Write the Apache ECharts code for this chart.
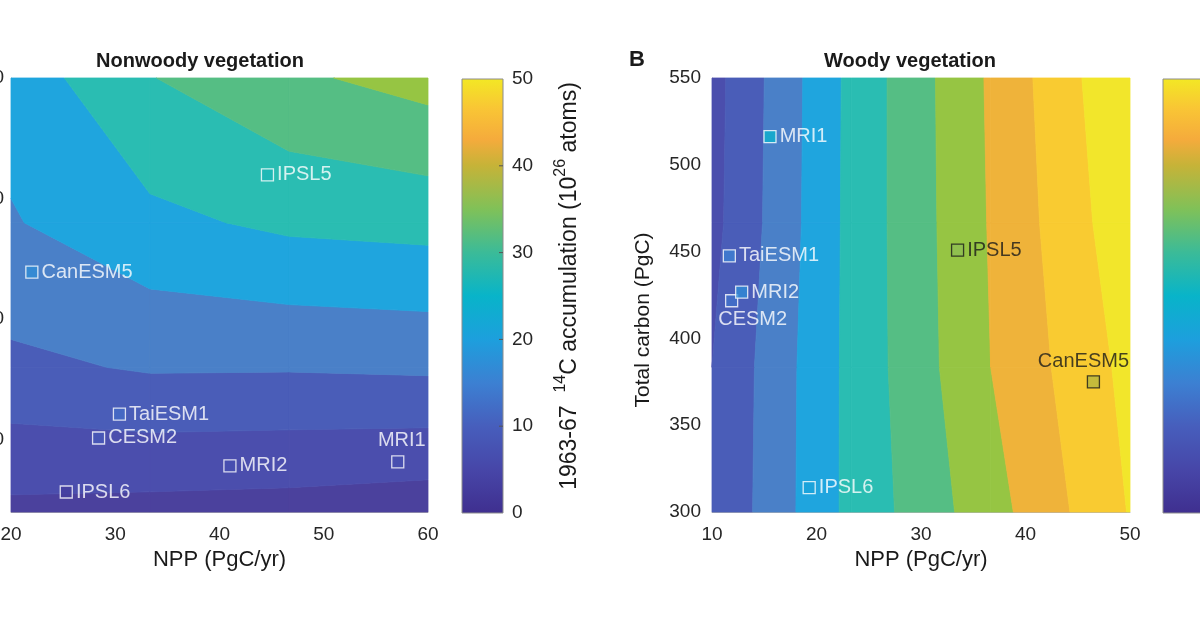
<!DOCTYPE html>
<html><head><meta charset="utf-8">
<script src="https://cdn.jsdelivr.net/npm/echarts@6/dist/echarts.min.js"></script>
<style>html,body{margin:0;padding:0;background:#fff}#c{width:1200px;height:630px}</style>
</head><body><div id="c"></div>
<script>
// ---------------- data ----------------
// Panel A: nonwoody vegetation, grid of 14C accumulation values
const nwNPP = [20, 33.33, 46.67, 60];
const nwCarbon = [70, 130, 190, 250];
const nwC14 = [            // rows follow nwCarbon, columns follow nwNPP
  [3.8, 3.3, 2.9, 1.9],
  [13.9, 15.5, 15.4, 15.8],
  [19.6, 23.8, 26.0, 26.7],
  [22.0, 29.8, 34.1, 36.9]
];
// Panel B: woody vegetation
const wNPP = [10, 23.33, 36.67, 50];
const wCarbon = [300, 383.33, 466.67, 550];
const wC14 = [
  [10.3, 26.4, 38.0, 50.3],
  [10.0, 26.4, 40.0, 51.5],
  [8.5, 26.4, 40.4, 53.5],
  [8.2, 26.3, 40.7, 54.9]
];
const contourLevels = [0, 5, 10, 15, 20, 25, 30, 35, 40, 45, 50, 55];

const models = ['IPSL5', 'CanESM5', 'TaiESM1', 'CESM2', 'MRI2', 'MRI1', 'IPSL6'];
const nwModelNPP = [44.6, 22.0, 30.4, 28.4, 41.0, 57.1, 25.3];
const nwModelCarbon = [209.8, 169.5, 110.6, 100.7, 89.1, 90.8, 78.3];
const nwModelC14 = [27, 17, 12, 9, 7, 7, 3];
const wModelNPP = [33.5, 46.5, 11.66, 11.88, 12.84, 15.55, 19.3];
const wModelCarbon = [450.9, 375, 447.5, 421.7, 426.6, 516.2, 314];
const wModelC14 = [36, 39, 15, 13, 17, 24, 21];

const nwYTicks = [100, 150, 200, 250];
const colorbarTicks = [10, 20, 30, 40];

// ---------------- styles ----------------
const bandColors = ['#4b419d', '#4b4ead', '#4a5db8', '#4a80c8', '#1fa5de', '#2abdb2',
  '#55be84', '#96c543', '#efb33a', '#f9cb31', '#f2e62b'];
const cmapStops = [[0, '#3f2f8f'], [5, '#4746a8'], [10, '#475ebc'], [15, '#3c80d2'],
  [20, '#1d9fdd'], [25, '#08b4c9'], [30, '#3bbb98'], [35, '#80c158'], [40, '#c6b338'],
  [43, '#f5ab3c'], [46.5, '#f9c535'], [50, '#f3e824']];
const FONT = "'Liberation Sans', Arial, Helvetica, sans-serif";

function hex(c){return [parseInt(c.substr(1,2),16),parseInt(c.substr(3,2),16),parseInt(c.substr(5,2),16)];}
function cmap(v){
  if (v <= cmapStops[0][0]) return cmapStops[0][1];
  for (let k = 1; k < cmapStops.length; k++) {
    if (v <= cmapStops[k][0]) {
      const a = cmapStops[k-1], b = cmapStops[k];
      const t = (v - a[0]) / (b[0] - a[0]);
      const ca = hex(a[1]), cb = hex(b[1]);
      return 'rgb(' + ca.map((x, i) => Math.round(x + t * (cb[i] - x))).join(',') + ')';
    }
  }
  return cmapStops[cmapStops.length-1][1];
}

function clip(poly, level, keepAbove){
  const out = [];
  const n = poly.length;
  for (let a = 0; a < n; a++) {
    const A = poly[a], B = poly[(a+1) % n];
    const inA = keepAbove ? A[2] >= level : A[2] <= level;
    const inB = keepAbove ? B[2] >= level : B[2] <= level;
    if (inA) out.push(A);
    if (inA !== inB) {
      const t = (level - A[2]) / (B[2] - A[2]);
      out.push([A[0] + t*(B[0]-A[0]), A[1] + t*(B[1]-A[1]), level]);
    }
  }
  return out;
}

function contourSeries(xs, ys, zs, axisIdx){
  const data = [];
  for (let j = 0; j < ys.length - 1; j++)
    for (let i = 0; i < xs.length - 1; i++) data.push([xs[i], ys[j], i, j]);
  return {
    type: 'custom', xAxisIndex: axisIdx, yAxisIndex: axisIdx, z: 1, silent: true,
    data: data,
    renderItem: function(params, api){
      const i = api.value(2), j = api.value(3);
      const poly = [[xs[i], ys[j], zs[j][i]], [xs[i+1], ys[j], zs[j][i+1]],
                    [xs[i+1], ys[j+1], zs[j+1][i+1]], [xs[i], ys[j+1], zs[j+1][i]]];
      const children = [];
      for (let k = 0; k < contourLevels.length - 1; k++) {
        let p = clip(poly, contourLevels[k], true);
        if (p.length < 3) continue;
        p = clip(p, contourLevels[k+1], false);
        if (p.length < 3) continue;
        children.push({type: 'polygon',
          shape: {points: p.map(v => api.coord([v[0], v[1]]))},
          style: {fill: bandColors[k], stroke: bandColors[k], lineWidth: 0.8}});
      }
      return {type: 'group', children: children};
    }
  };
}

function colorbarSeries(axisIdx){
  return {
    type: 'custom', xAxisIndex: axisIdx, yAxisIndex: axisIdx, silent: true, z: 1,
    data: [[0, 0, 1, 50]],
    renderItem: function(params, api){
      const p0 = api.coord([api.value(0), api.value(1)]);
      const p1 = api.coord([api.value(2), api.value(3)]);
      const stops = cmapStops.map(s => ({offset: s[0] / 50, color: s[1]}));
      const children = [{type: 'rect',
        shape: {x: p0[0], y: p1[1], width: p1[0]-p0[0], height: p0[1]-p1[1]},
        style: {fill: new echarts.graphic.LinearGradient(0, 1, 0, 0, stops),
                stroke: '#8c8c8c', lineWidth: 1}}];
      colorbarTicks.forEach(t => {
        const q = api.coord([1, t]);
        children.push({type: 'line', shape: {x1: q[0] - 4, y1: q[1], x2: q[0], y2: q[1]},
          style: {stroke: '#555', lineWidth: 1}});
      });
      return {type: 'group', children: children};
    }
  };
}

function markerSeries(xsM, ysM, vals, axisIdx, opts){
  const data = models.map((m, k) => {
    const o = opts[m] || {};
    return {
      name: m, value: [xsM[k], ysM[k], vals[k]],
      itemStyle: {color: cmap(vals[k]), borderColor: o.dark ? '#1a1a1a' : '#ffffff', borderWidth: 1.3},
      label: Object.assign({position: 'right', distance: 3, color: o.dark ? '#1a1a1a' : '#ffffff'}, o.label || {})
    };
  });
  return {
    type: 'scatter', xAxisIndex: axisIdx, yAxisIndex: axisIdx, z: 5, symbol: 'rect', symbolSize: 12,
    silent: true, data: data,
    label: {show: true, formatter: '{b}', fontSize: 20, fontFamily: FONT}
  };
}

const tickLabel = {fontSize: 19, color: '#262626', fontFamily: FONT};
const axisLine = {show: true, onZero: false, lineStyle: {color: '#b4b4b4', width: 1}};

const chart = echarts.init(document.getElementById('c'));
chart.setOption({
  animation: false,
  backgroundColor: '#ffffff',
  grid: [
    {left: 11, top: 78, width: 417, height: 434, outerBoundsMode: 'none', containLabel: false},
    {left: 462, top: 79, width: 41, height: 434, outerBoundsMode: 'none', containLabel: false},
    {left: 712, top: 78, width: 418, height: 434, outerBoundsMode: 'none', containLabel: false},
    {left: 1163, top: 79, width: 41, height: 434, outerBoundsMode: 'none', containLabel: false}
  ],
  xAxis: [
    {gridIndex: 0, type: 'value', min: 20, max: 60, interval: 10, axisLine: axisLine,
     axisTick: {show: false}, splitLine: {show: false},
     axisLabel: Object.assign({margin: 13}, tickLabel),
     name: 'NPP (PgC/yr)', nameLocation: 'middle', nameGap: 35,
     nameTextStyle: {fontSize: 22, color: '#1a1a1a', fontFamily: FONT}},
    {gridIndex: 1, type: 'value', min: 0, max: 1, show: false},
    {gridIndex: 2, type: 'value', min: 10, max: 50, interval: 10, axisLine: axisLine,
     axisTick: {show: false}, splitLine: {show: false},
     axisLabel: Object.assign({margin: 13}, tickLabel),
     name: 'NPP (PgC/yr)', nameLocation: 'middle', nameGap: 35,
     nameTextStyle: {fontSize: 22, color: '#1a1a1a', fontFamily: FONT}},
    {gridIndex: 3, type: 'value', min: 0, max: 1, show: false}
  ],
  yAxis: [
    {gridIndex: 0, type: 'value', min: 70, max: 250, axisLine: axisLine,
     axisTick: {show: false, customValues: nwYTicks}, splitLine: {show: false},
     axisLabel: Object.assign({margin: 7, customValues: nwYTicks}, tickLabel)},
    {gridIndex: 1, type: 'value', min: 0, max: 50, interval: 10, position: 'right',
     axisLine: {show: false, onZero: false}, splitLine: {show: false},
     axisTick: {show: false},
     axisLabel: Object.assign({margin: 9}, tickLabel)},
    {gridIndex: 2, type: 'value', min: 300, max: 550, interval: 50, axisLine: axisLine,
     axisTick: {show: false}, splitLine: {show: false},
     axisLabel: Object.assign({margin: 11}, tickLabel),
     name: 'Total carbon (PgC)', nameLocation: 'middle', nameRotate: 90, nameGap: 58,
     nameTextStyle: {fontSize: 21, color: '#1a1a1a', fontFamily: FONT, padding: [0, 50, 0, 0]}},
    {gridIndex: 3, type: 'value', min: 0, max: 50, interval: 10, position: 'right',
     axisLine: {show: false, onZero: false}, splitLine: {show: false},
     axisTick: {show: false},
     axisLabel: Object.assign({margin: 9}, tickLabel)}
  ],
  graphic: [
    {type: 'text', x: 200, y: 61, style: {text: 'Nonwoody vegetation', font: 'bold 20px ' + FONT,
      fill: '#1a1a1a', textAlign: 'center', textVerticalAlign: 'middle'}},
    {type: 'text', x: 637, y: 60, style: {text: 'B', font: 'bold 22px ' + FONT,
      fill: '#1a1a1a', textAlign: 'center', textVerticalAlign: 'middle'}},
    {type: 'text', x: 910, y: 61, style: {text: 'Woody vegetation', font: 'bold 20px ' + FONT,
      fill: '#1a1a1a', textAlign: 'center', textVerticalAlign: 'middle'}},
    {type: 'text', x: 567, y: 286, rotation: Math.PI / 2,
      style: {text: '{a|1963-67  }{s|14}{a|C accumulation (10}{s|26}{a| atoms)}',
        textAlign: 'center', textVerticalAlign: 'middle', fill: '#1a1a1a',
        rich: {a: {fontSize: 23, fontFamily: FONT, color: '#1a1a1a', lineHeight: 29, verticalAlign: 'bottom'},
               s: {fontSize: 16, fontFamily: FONT, color: '#1a1a1a', lineHeight: 29, verticalAlign: 'top'}}}}
  ],
  series: [
    contourSeries(nwNPP, nwCarbon, nwC14, 0),
    colorbarSeries(1),
    contourSeries(wNPP, wCarbon, wC14, 2),
    colorbarSeries(3),
    markerSeries(nwModelNPP, nwModelCarbon, nwModelC14, 0, {
      MRI1: {label: {position: 'top', distance: 5, offset: [4, 0]}}
    }),
    markerSeries(wModelNPP, wModelCarbon, wModelC14, 2, {
      IPSL5: {dark: true},
      CanESM5: {dark: true, label: {position: 'top', distance: 4, offset: [-10, 0]}},
      CESM2: {label: {position: 'bottom', distance: 2, offset: [21, 0]}}
    })
  ]
});
</script></body></html>
